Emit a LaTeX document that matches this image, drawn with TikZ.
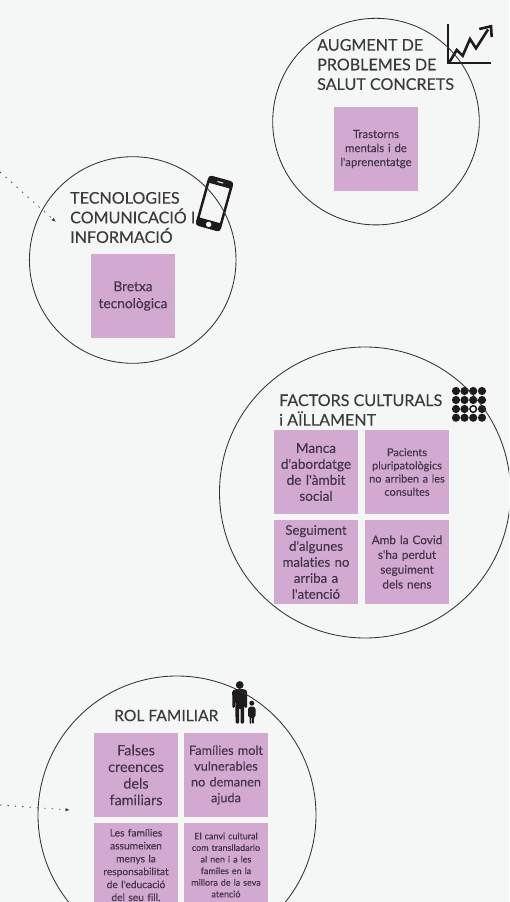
\documentclass[tikz,border=0pt]{standalone}
\usepackage{fontspec}
\setmainfont{Lato}[Ligatures={TeXOff,CommonOff},FakeBold=0.2]
\usetikzlibrary{arrows.meta}
\definecolor{bgc}{HTML}{F5F7F6}
\definecolor{boxc}{HTML}{D2A9D0}
\definecolor{ink}{HTML}{1E1B1C}
\definecolor{titlec}{HTML}{3C3B3B}
\definecolor{boxtext}{HTML}{43364A}
\tikzset{
  ring/.style={draw=ink!90,line width=0.85pt,fill=none},
  card/.style={fill=boxc,text=boxtext,minimum width=84pt,minimum height=84pt,inner sep=0pt,align=center,text width=84pt},
  heading/.style={text=titlec,inner sep=0pt,align=left,anchor=west,font=\fontsize{16.1}{19.6}\selectfont},
  dotlink/.style={draw=ink!85,line width=0.8pt,dash pattern=on 1.4pt off 6pt,-{Latex[length=4.5pt,width=3.5pt]}},
  glyph/.style={fill=ink,draw=none},
}
\newcommand{\fs}[2]{\fontsize{#1}{#2}\selectfont}
\begin{document}
\begin{tikzpicture}[x=1pt,y=-1pt]
\useasboundingbox (0,0) rectangle (509,902);
\clip (0,0) rectangle (509,902);
\fill[bgc] (0,0) rectangle (509,902);

% cards
\node[card,font=\fs{11.4}{14}] (c1) at (376,149) {Trastorns\\mentals i de\\l'aprenentatge};
\node[card,font=\fs{13.7}{17}] (c2) at (133,296) {Bretxa\\tecnològica};
\node[card,font=\fs{13.6}{16}] (c3a) at (316,472) {Manca\\d'abordatge\\de l'àmbit\\social};
\node[card,font=\fs{10.9}{13.2}] (c3b) at (407,472) {Pacients\\pluripatològics\\no arriben a les\\consultes};
\node[card,font=\fs{13.2}{16}] (c3c) at (316,562) {Seguiment\\d'algunes\\malaties no\\arriba a\\l'atenció};
\node[card,font=\fs{11.8}{14.8}] (c3d) at (407,562) {Amb la Covid\\s'ha perdut\\seguiment\\dels nens};
\node[card,font=\fs{14.4}{16.6}] (c4a) at (136,775) {Falses\\creences\\dels\\familiars};
\node[card,font=\fs{12.7}{15.8}] (c4b) at (226,775) {Famílies molt\\vulnerables\\no demanen\\ajuda};
\node[card,font=\fs{10.2}{12.9}] (c4c) at (136,865) {Les famílies\\assumeixen\\menys la\\responsabilitat\\de l'educació\\del seu fill.};
\node[card,font=\fs{9}{11.6}] (c4d) at (226,865) {El canvi cultural\\com translladarlo\\al nen i a les\\famíles en la\\millora de la seva\\atenció};

% headings
\node[heading] (t1) at (317,64.5) {AUGMENT DE\\PROBLEMES DE\\SALUT CONCRETS};
\node[heading] (t2) at (70,217.5) {TECNOLOGIES\\COMUNICACIÓ I\\INFORMACIÓ};
\node[heading] (t3) at (279,410) {FACTORS CULTURALS\\i AÏLLAMENT};
\node[heading,font=\fs{15.6}{19.6}] (t4) at (114,715.5) {ROL FAMILIAR};

% chart icon
\draw[ink,line width=2.6pt] (448,24) -- (448,63) -- (491,63);
\draw[ink,line width=2.6pt,line join=miter] (449.5,62) -- (456.7,50) -- (462.7,55.7) -- (470,39) -- (476,48.3) -- (488,29.5);
\draw[ink,line width=2.6pt] (479.3,29) -- (491,26.3) -- (491.7,37);

% phone icon
\begin{scope}[shift={(214.5,203.5)},rotate=-15.5]
  \fill[ink,even odd rule,rounded corners=3.5pt] (-13,-26) rectangle (13,26)
     [sharp corners] (-10.5,-18.5) rectangle (10.5,17.5);
  \fill[white] (0,21.7) circle (2.7pt);
  \fill[white] (-3,-22.5) rectangle (3,-21.5);
\end{scope}

% dots icon
\foreach \px/\cx in {1/456,2/464.5,3/473.2,4/482}
  \foreach \py/\cy in {1/391,2/400,3/409,4/417.7}
    \fill[ink] (\cx,\cy) circle (4.1pt);
\fill[bgc] (473.2,409) circle (2.3pt);

% people icon
\fill[glyph] (239.7,685) circle (3.9pt);
\fill[glyph,rounded corners=1.2pt] (232.2,691) -- (235,689.2) -- (244.5,689.2) -- (247.2,691) -- (247,708) -- (244.8,708) -- (244.4,697) -- (244,723.5) -- (240.5,723.5) -- (240.5,708) -- (239.2,708) -- (239.2,723.5) -- (235.6,723.5) -- (235.2,697) -- (234.8,708) -- (232.4,708) -- cycle;
\fill[glyph] (251.8,703.2) circle (2.5pt);
\fill[glyph,rounded corners=1pt] (248,708.5) -- (249.7,706.6) -- (253.9,706.6) -- (255.6,708.5) -- (255.6,716.5) -- (254.1,716.5) -- (253.8,723.8) -- (252.2,723.8) -- (252.2,717) -- (251.4,717) -- (251.4,723.8) -- (249.8,723.8) -- (249.5,716.5) -- (248,716.5) -- cycle;

% rings
\node[circle,ring,minimum size=206.6pt,inner sep=0pt] (r1) at (376,121.6) {};
\node[circle,ring,minimum size=206.6pt,inner sep=0pt] (r2) at (132.7,260) {};
\node[circle,ring,minimum size=291pt,inner sep=0pt] (r3) at (365,492.5) {};
\node[circle,ring,minimum size=278pt,inner sep=0pt] (r4) at (177,815) {};

% connectors
\coordinate (a1s) at (0,172);
\coordinate (a1e) at (56,222);
\coordinate (a2s) at (0,805);
\coordinate (a2e) at (70,810);
\draw[dotlink] (a1s) -- (a1e);
\draw[dotlink] (a2s) -- (a2e);
\end{tikzpicture}
\end{document}
